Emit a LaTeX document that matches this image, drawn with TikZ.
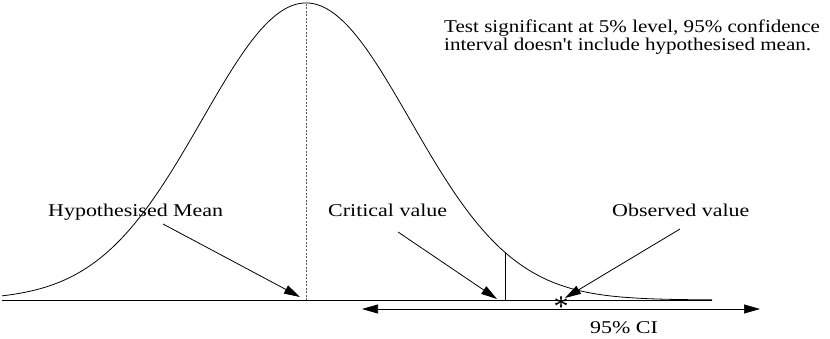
\documentclass[tikz,border=0pt]{standalone}
\usepackage{fontspec}
\setmainfont{Liberation Serif}
\newfontfamily\lblfont[FakeStretch=1.22]{Liberation Serif}
\newfontfamily\topfont[FakeStretch=1.17]{Liberation Serif}
\usetikzlibrary{arrows.meta}
\begin{document}
\begin{tikzpicture}[x=1pt,y=-1pt,
  lbl/.style={font=\lblfont\fontsize{18}{18}\selectfont, inner sep=0pt},
  toplbl/.style={font=\topfont\fontsize{18}{18}\selectfont, inner sep=0pt},
  conn/.style={line width=0.8pt, -{Triangle[length=16pt,width=9pt]}},
  thin/.style={line width=0.8pt}]
\useasboundingbox (0,0) rectangle (830,339);
% baseline
\coordinate (b0) at (2,300);
\coordinate (b1) at (712,300);
\draw[thin] (b0) -- (b1);
% normal curve
\draw[thin] plot[domain=2:712, samples=300, smooth] (\x, {300-297*exp(-((\x-306)/104)^2/2)});
% mean dashed line
\coordinate (mtop) at (306,4);
\coordinate (mbot) at (306,300);
\draw[line width=0.8pt, gray!70!black, dash pattern=on 2pt off 1.5pt] (mtop) -- (mbot);
% critical value line
\coordinate (cbot) at (505,300);
\coordinate (ctop) at (505,{300-297*exp(-((505-306)/104)^2/2)});
\draw[thin] (cbot) -- (ctop);
% labels
\node[lbl, anchor=base west] (hm) at (48,217) {Hypothesised Mean};
\node[lbl, anchor=base west] (cv) at (328,217) {Critical value};
\node[lbl, anchor=base west] (ov) at (612,217) {Observed value};
\node[lbl, anchor=base west] (ci) at (590,333) {95\% CI};
\node[toplbl, anchor=north west, align=left] (tt) at (444,19.5)
  {Test significant at 5\% level, 95\% confidence\\interval doesn't include hypothesised mean.};
% observed star
\node[inner sep=0pt, font=\fontsize{30}{30}\selectfont, anchor=base] (star) at (561,316) {*};
% arrow targets
\coordinate (hmS) at (163,224);
\coordinate (hmT) at (300,297);
\coordinate (cvS) at (398,232);
\coordinate (cvT) at (497,299);
\coordinate (ovS) at (680,229);
\coordinate (ovT) at (565,298);
\draw[conn] (hmS) -- (hmT);
\draw[conn] (cvS) -- (cvT);
\draw[conn] (ovS) -- (ovT);
% CI arrow
\coordinate (ciL) at (362,309);
\coordinate (ciR) at (760,309);
\draw[line width=0.7pt, {Triangle[length=16pt,width=9pt]}-{Triangle[length=16pt,width=9pt]}] (ciL) -- (ciR);
\end{tikzpicture}
\end{document}
